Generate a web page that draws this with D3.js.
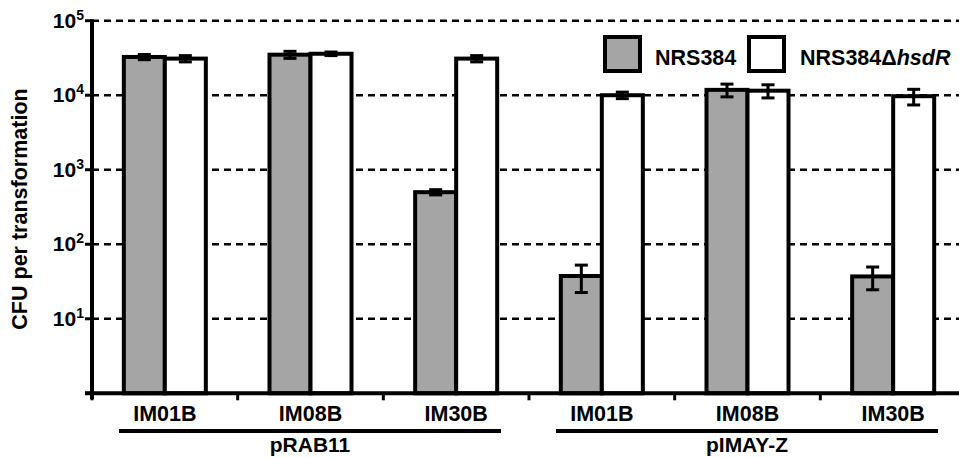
<!DOCTYPE html>
<html>
<head>
<meta charset="utf-8">
<script src="https://cdn.jsdelivr.net/npm/d3@7"></script>
<style>
  html, body { margin: 0; padding: 0; background: #fff; }
  svg { display: block; font-family: "Liberation Sans", Arial, Helvetica, sans-serif; font-weight: bold; }
</style>
</head>
<body>
<svg id="chart" width="959" height="458"></svg>
<script>
// Strains transformed with each plasmid
const categories = ["IM01B", "IM08B", "IM30B", "IM01B", "IM08B", "IM30B"];
const plasmids = ["pRAB11", "pRAB11", "pRAB11", "pIMAY-Z", "pIMAY-Z", "pIMAY-Z"];
const seriesNames = ["NRS384", "NRS384\u0394hsdR"];
// CFU per transformation (mean and error)
const wildType    = [32600, 35000, 500, 37.5, 11800, 37];
const wildTypeErr = [2600, 3800, 40, 15, 2300, 12.5];
const hsdR        = [31000, 36000, 31000, 10000, 11500, 9700];
const hsdRErr     = [3000, 2000, 3000, 1000, 2300, 2300];
const tickExponents = [1, 2, 3, 4, 5];

const svg = d3.select("#chart");
const W = 959;

const x = d3.scaleBand().domain(d3.range(categories.length)).range([92, 966]).paddingInner(0).paddingOuter(0);
const xs = d3.scaleBand().domain([0, 1]).range([0, x.bandwidth()]).paddingInner(0).paddingOuter(0.776);
const y = d3.scaleLog().domain([1, 1e5]).range([393.3, 20.7]);

const fills = ["#a5a5a5", "#ffffff"];
const rows = categories.map((c, i) => [
  { i, s: 0, v: wildType[i], e: wildTypeErr[i] },
  { i, s: 1, v: hsdR[i], e: hsdRErr[i] }
]).flat();

// dashed decade lines
svg.append("g").selectAll("line").data(tickExponents).join("line")
  .attr("x1", 92).attr("x2", W)
  .attr("y1", d => y(Math.pow(10, d))).attr("y2", d => y(Math.pow(10, d)))
  .attr("stroke", "#000").attr("stroke-width", 2.5).attr("stroke-dasharray", "7,5");

// bars
svg.append("g").selectAll("rect").data(rows).join("rect")
  .attr("x", d => x(d.i) + xs(d.s))
  .attr("width", xs.bandwidth())
  .attr("y", d => y(d.v))
  .attr("height", d => y(1) - y(d.v))
  .attr("fill", d => fills[d.s])
  .attr("stroke", "#000").attr("stroke-width", 4);

// error bars
const eb = svg.append("g").attr("stroke", "#000").attr("stroke-width", 3);
rows.forEach(d => {
  const cx = x(d.i) + xs(d.s) + xs.bandwidth() / 2;
  const yt = y(d.v + d.e), yb = y(d.v - d.e);
  eb.append("line").attr("x1", cx).attr("x2", cx).attr("y1", yt).attr("y2", yb);
  eb.append("line").attr("x1", cx - 6.5).attr("x2", cx + 6.5).attr("y1", yt).attr("y2", yt);
  eb.append("line").attr("x1", cx - 6.5).attr("x2", cx + 6.5).attr("y1", yb).attr("y2", yb);
});

// y axis
const yAxis = svg.append("g");
yAxis.append("line").attr("x1", 92).attr("x2", 92).attr("y1", y(1e5) - 1.5).attr("y2", y(1) + 6)
  .attr("stroke", "#000").attr("stroke-width", 4);
yAxis.selectAll("line.tick").data([0].concat(tickExponents)).join("line").attr("class", "tick")
  .attr("x1", 85).attr("x2", 92)
  .attr("y1", d => y(Math.pow(10, d))).attr("y2", d => y(Math.pow(10, d)))
  .attr("stroke", "#000").attr("stroke-width", 3);
const tl = yAxis.selectAll("text").data(tickExponents).join("text")
  .attr("x", 84).attr("y", d => y(Math.pow(10, d)) + 7)
  .attr("text-anchor", "end").attr("font-size", 21);
tl.append("tspan").text("10");
tl.append("tspan").attr("font-size", 14).attr("dy", -8).text(d => d);

svg.append("text")
  .attr("transform", "translate(27,209) rotate(-90)")
  .attr("text-anchor", "middle").attr("font-size", 21.5)
  .text("CFU per transformation");

// x axis
const xAxis = svg.append("g");
xAxis.append("line").attr("x1", 85).attr("x2", W).attr("y1", y(1)).attr("y2", y(1))
  .attr("stroke", "#000").attr("stroke-width", 4);
xAxis.selectAll("line.tick").data(d3.range(categories.length)).join("line").attr("class", "tick")
  .attr("x1", d => x(d)).attr("x2", d => x(d))
  .attr("y1", y(1)).attr("y2", y(1) + 7)
  .attr("stroke", "#000").attr("stroke-width", 3);
xAxis.selectAll("text").data(categories).join("text")
  .attr("x", (d, i) => x(i) + x.bandwidth() / 2).attr("y", 421)
  .attr("text-anchor", "middle").attr("font-size", 21.5).text(d => d);

// plasmid brackets
const groups = d3.groups(plasmids.map((p, i) => ({ p, i })), d => d.p);
groups.forEach(([name, members]) => {
  const x0 = x(members[0].i) + 27;
  const x1 = x(members[members.length - 1].i) + x.bandwidth() - 28;
  svg.append("line").attr("x1", x0).attr("x2", x1).attr("y1", 431).attr("y2", 431)
    .attr("stroke", "#000").attr("stroke-width", 4);
  svg.append("text").attr("x", (x0 + x1) / 2).attr("y", 452)
    .attr("text-anchor", "middle").attr("font-size", 21).text(name);
});

// legend
const legendX = [605, 749];
const textX = [655, 800];
const lg = svg.append("g");
seriesNames.forEach((name, s) => {
  lg.append("rect").attr("x", legendX[s]).attr("y", 37).attr("width", 35).attr("height", 34)
    .attr("fill", fills[s]).attr("stroke", "#000").attr("stroke-width", 4);
  const t = lg.append("text").attr("x", textX[s]).attr("y", 65).attr("font-size", 21.5);
  if (s === 0) {
    t.text(name);
  } else {
    t.append("tspan").text("NRS384\u0394");
    t.append("tspan").attr("font-style", "italic").text("hsdR");
  }
});
</script>
</body>
</html>
